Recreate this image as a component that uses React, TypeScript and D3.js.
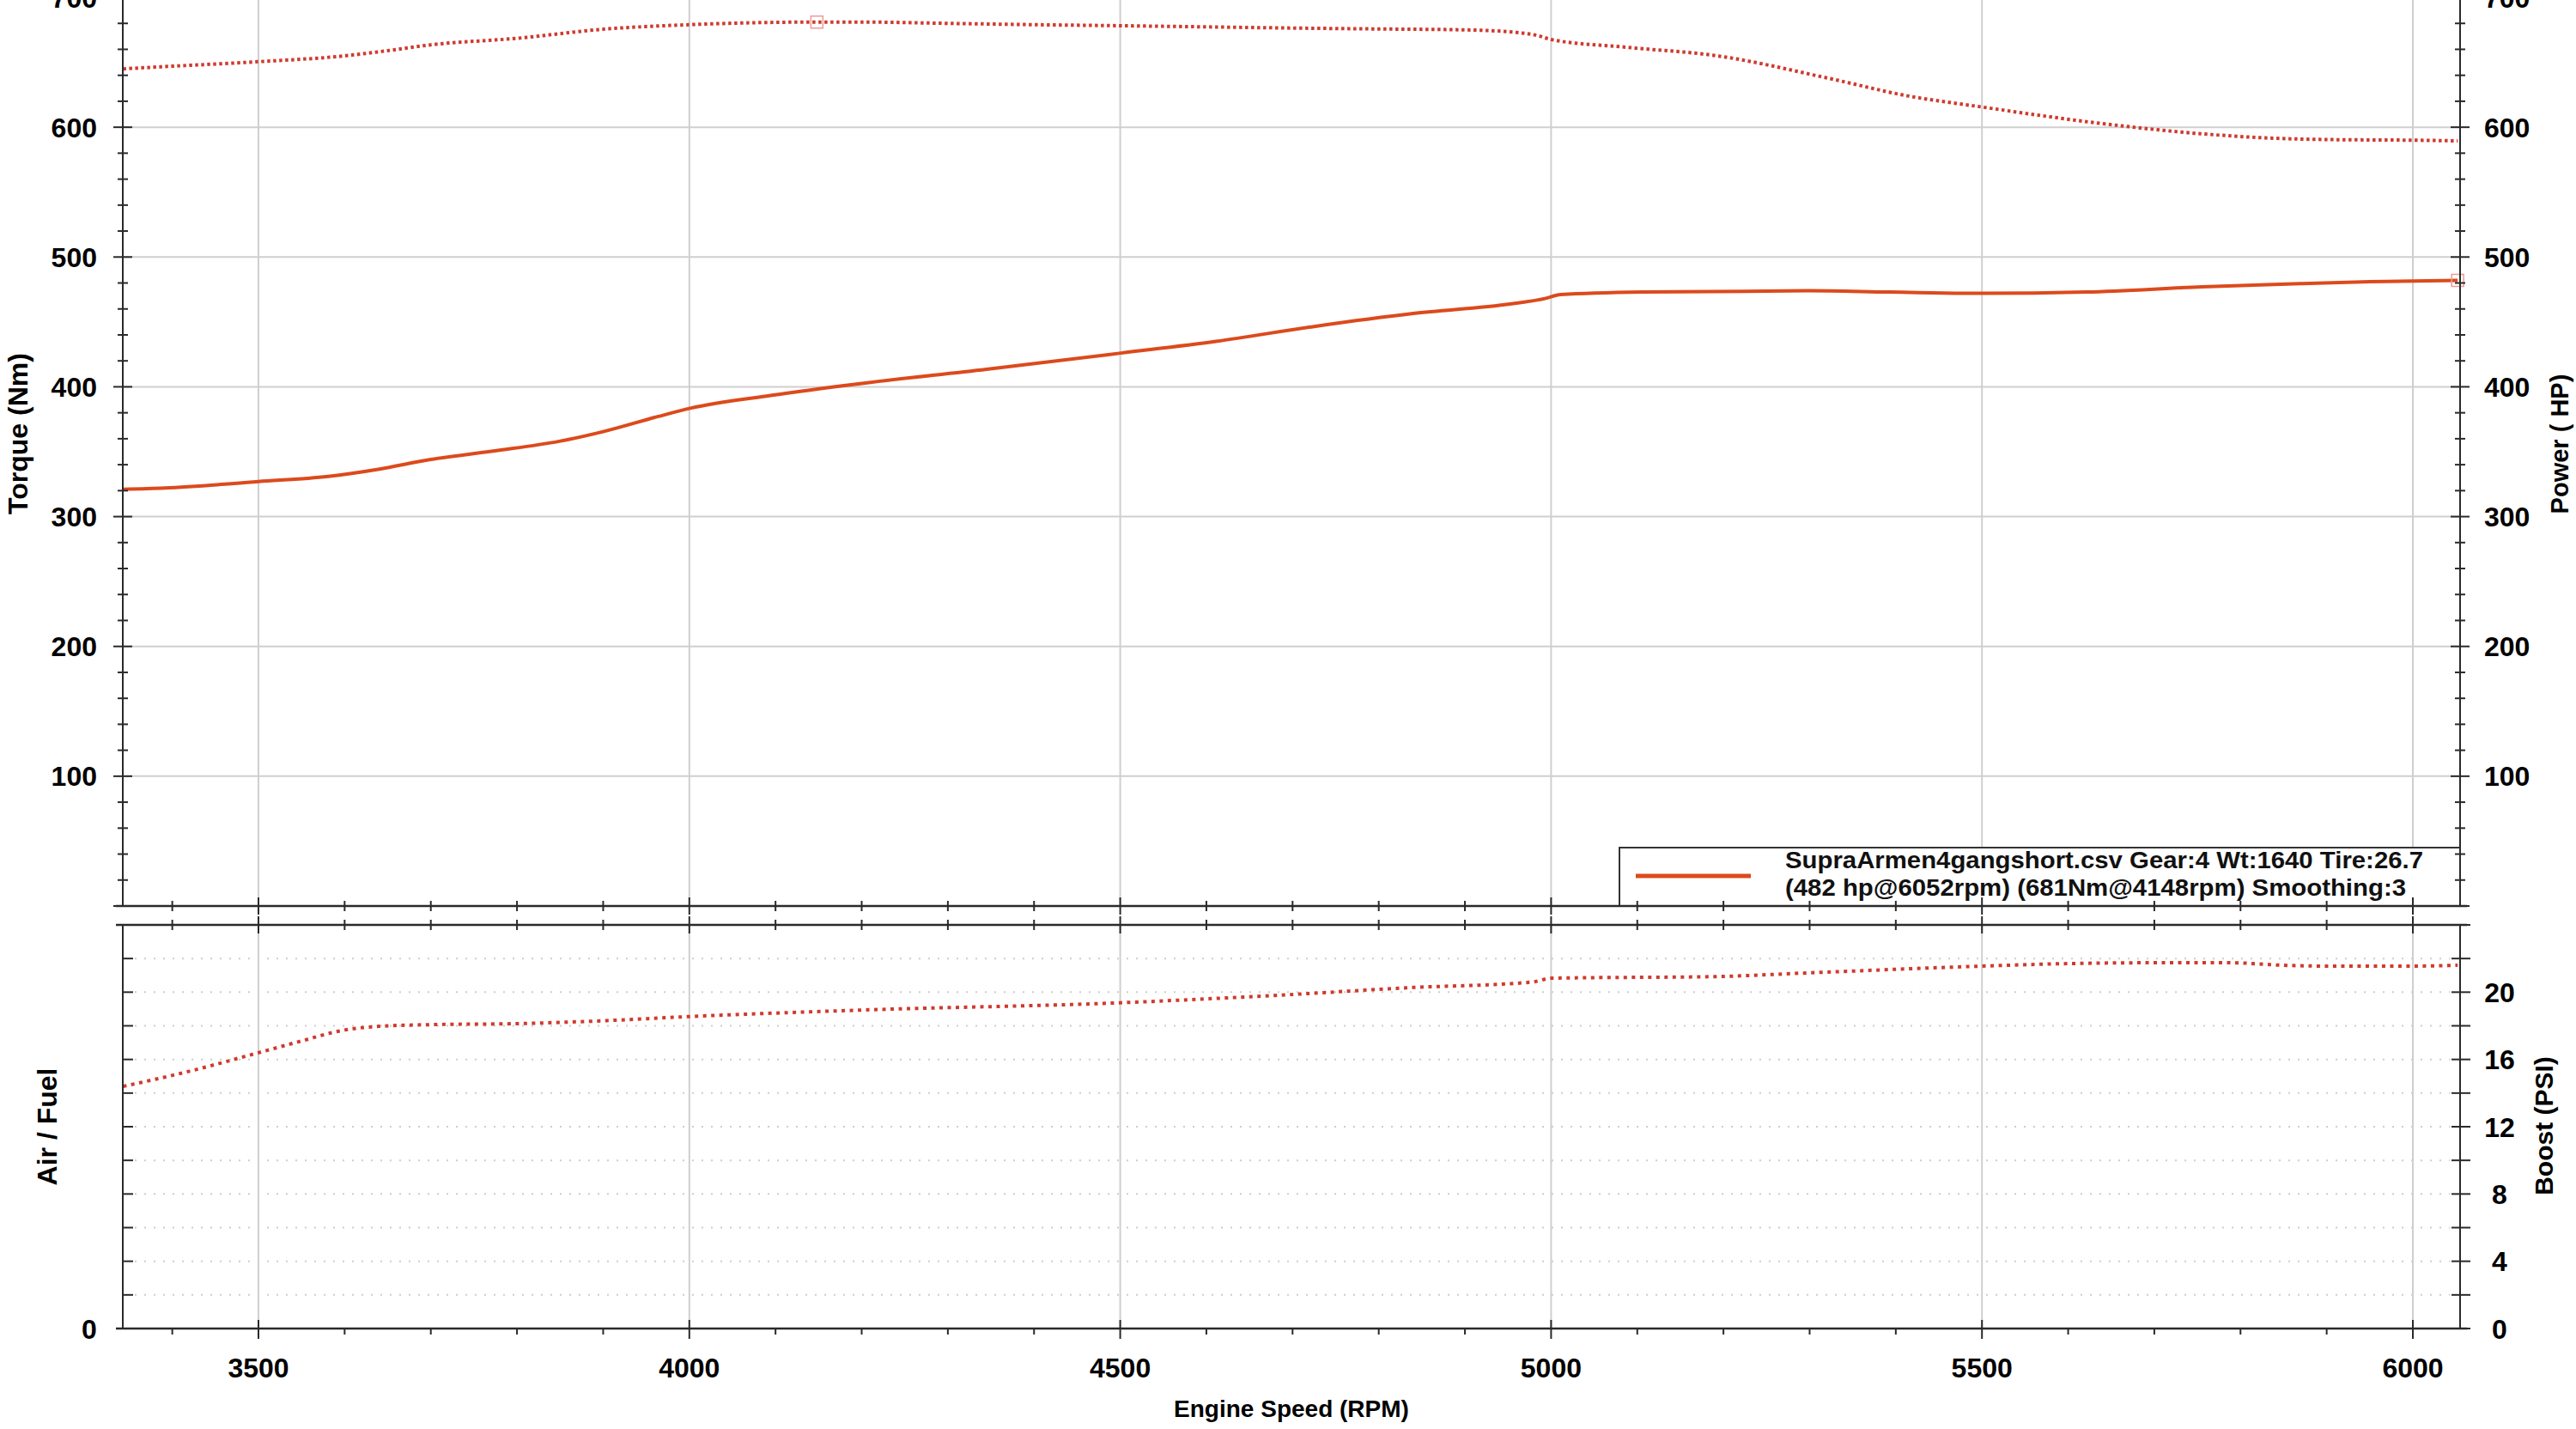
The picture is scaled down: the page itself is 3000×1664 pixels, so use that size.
import React from "react";
import * as d3 from "d3";

const W = 3000;
const H = 1664;

// ---- data ----
const torqueRpm = [3343, 3400, 3500, 3600, 3650, 3700, 3800, 3900, 4000, 4148, 4200, 4300, 4400, 4500, 4600, 4700, 4800, 4900, 4960, 4985, 5000, 5086, 5193, 5320, 5415, 5502, 5637, 5765, 5829, 5900, 6000, 6052];
const torqueNm = [645, 647, 650.5, 655, 659, 663.5, 668.5, 675.5, 679, 681, 681, 680, 679, 678.2, 677.3, 676.4, 675.7, 675, 673, 670.5, 667.6, 661.7, 655, 638, 624, 615.4, 603, 594.4, 591.8, 590.5, 590, 589.5];

const powerRpm = [3343, 3391, 3500, 3581, 3639, 3700, 3772, 3849, 3900, 3963, 4001, 4096, 4192, 4345, 4501, 4611, 4725, 4840, 4954, 4993, 5011, 5107, 5298, 5393, 5500, 5621, 5755, 5869, 5950, 6052];
const powerHp = [321, 322, 327, 331, 336.5, 344, 350.5, 358, 365.5, 377, 383.5, 393.5, 402, 413.5, 426, 435, 446.5, 456.5, 464, 468, 471, 473, 474, 473, 472, 473, 477, 479.5, 481, 482];

const boostRpm = [3343, 3420, 3500, 3543, 3600, 3640, 3700, 3800, 3900, 4000, 4196, 4500, 4705, 4832, 4978, 5000, 5193, 5300, 5500, 5600, 5700, 5788, 5850, 5900, 6000, 6052];
const boostPsi = [14.4, 15.3, 16.4, 17.0, 17.75, 17.97, 18.07, 18.13, 18.3, 18.55, 18.93, 19.37, 19.88, 20.26, 20.6, 20.83, 20.93, 21.15, 21.55, 21.7, 21.75, 21.75, 21.6, 21.55, 21.55, 21.6];

const xMajorTicks = [3500, 4000, 4500, 5000, 5500, 6000];
const torqueTicks = [100, 200, 300, 400, 500, 600, 700];
const boostTicks = [0, 4, 8, 12, 16, 20];
const legendText = [
  "SupraArmen4gangshort.csv Gear:4 Wt:1640 Tire:26.7",
  "(482 hp@6052rpm) (681Nm@4148rpm) Smoothing:3",
];
const peakTorque = { rpm: 4148, value: 681 };
const peakPower = { rpm: 6052, value: 482 };

// ---- layout ----
const X0 = 143;
const X1 = 2865;
const TOP_Y0 = 1055;
const TOP_Y1 = -3;
const BOT_Y0 = 1547;
const BOT_Y1 = 1077;

const FONT = "'Liberation Sans', Arial, sans-serif";
const AXIS = "#2a2a2a";
const GRID = "#cfcfcf";
const POWER_COLOR = "#dc4a1c";
const DOT_COLOR = "#cf3a2e";

export default function App() {
  const x = d3.scaleLinear().domain([3500, 6000]).range([301, 2810]);
  const yTop = d3.scaleLinear().domain([0, 700]).range([TOP_Y0, TOP_Y1]);
  const yBot = d3.scaleLinear().domain([0, 24]).range([BOT_Y0, BOT_Y1]);

  const torqueLine = d3
    .line<number>()
    .x((_, i) => x(torqueRpm[i]))
    .y((d) => yTop(d))
    .curve(d3.curveMonotoneX);
  const powerLine = d3
    .line<number>()
    .x((_, i) => x(powerRpm[i]))
    .y((d) => yTop(d))
    .curve(d3.curveMonotoneX);
  const boostLine = d3
    .line<number>()
    .x((_, i) => x(boostRpm[i]))
    .y((d) => yBot(d))
    .curve(d3.curveMonotoneX);

  const minorX = d3.range(3400, 6100, 100).filter((r) => x(r) > X0 + 2 && x(r) < X1 - 2);
  const minorTorque = d3.range(0, 720, 20);
  const minorBoost = d3.range(0, 25, 2);

  return (
    <svg
      width={W}
      height={H}
      viewBox={`0 0 ${W} ${H}`}
      style={{ position: "absolute", left: 0, top: 0, background: "#fff" }}
      fontFamily={FONT}
      fontWeight="bold"
    >
      <rect x={0} y={0} width={W} height={H} fill="#fff" />

      {/* ---------- top panel grid ---------- */}
      {torqueTicks.map((t) => (
        <line key={"hg" + t} x1={X0} x2={X1} y1={yTop(t)} y2={yTop(t)} stroke={GRID} strokeWidth={2} />
      ))}
      {xMajorTicks.map((t) => (
        <line key={"vgt" + t} x1={x(t)} x2={x(t)} y1={TOP_Y1} y2={TOP_Y0} stroke={GRID} strokeWidth={2} />
      ))}

      {/* ---------- bottom panel grid ---------- */}
      {minorBoost
        .filter((t) => t > 0 && t < 24)
        .map((t) => (
          <line
            key={"bg" + t}
            x1={X0 + 14}
            x2={X1 - 12}
            y1={yBot(t)}
            y2={yBot(t)}
            stroke="#cdcdcd"
            strokeWidth={2}
            strokeDasharray="2 9"
          />
        ))}
      {xMajorTicks.map((t) => (
        <line key={"vgb" + t} x1={x(t)} x2={x(t)} y1={BOT_Y1} y2={BOT_Y0} stroke={GRID} strokeWidth={2} />
      ))}

      {/* ---------- data ---------- */}
      <path
        d={torqueLine(torqueNm) || ""}
        fill="none"
        stroke={DOT_COLOR}
        strokeWidth={4}
        strokeDasharray="3.5 3.5"
      />
      <path d={powerLine(powerHp) || ""} fill="none" stroke={POWER_COLOR} strokeWidth={4} />
      <path
        d={boostLine(boostPsi) || ""}
        fill="none"
        stroke={DOT_COLOR}
        strokeWidth={4}
        strokeDasharray="4 5.5"
      />

      {/* peak markers */}
      <rect
        x={x(peakTorque.rpm) - 7}
        y={yTop(peakTorque.value) - 7}
        width={14}
        height={14}
        fill="none"
        stroke="#ec9a9a"
        strokeWidth={1.5}
      />
      <rect
        x={x(peakPower.rpm) - 7}
        y={yTop(peakPower.value) - 7}
        width={14}
        height={14}
        fill="none"
        stroke="#ec9a9a"
        strokeWidth={1.5}
      />

      {/* ---------- legend ---------- */}
      <rect x={1886} y={987} width={X1 - 1886} height={TOP_Y0 - 987} fill="#fff" stroke="#333" strokeWidth={2} />
      <line x1={1905} x2={2039} y1={1020} y2={1020} stroke={POWER_COLOR} strokeWidth={5} />
      <text x={2079} y={1011} fontSize={27} fill="#111" textLength={743} lengthAdjust="spacingAndGlyphs">
        {legendText[0]}
      </text>
      <text x={2079} y={1043} fontSize={27} fill="#111" textLength={723} lengthAdjust="spacingAndGlyphs">
        {legendText[1]}
      </text>

      {/* ---------- top panel axes ---------- */}
      <line x1={X0} x2={X0} y1={TOP_Y1} y2={TOP_Y0} stroke={AXIS} strokeWidth={2} />
      <line x1={X1} x2={X1} y1={TOP_Y1} y2={TOP_Y0} stroke={AXIS} strokeWidth={2} />
      <line x1={135} x2={X1 + 8} y1={TOP_Y0} y2={TOP_Y0} stroke={AXIS} strokeWidth={2.5} />
      {minorTorque.map((t) => {
        const major = t % 100 === 0;
        const h = major ? 11 : 6;
        return (
          <g key={"tt" + t}>
            <line x1={X0 - h} x2={X0 + h} y1={yTop(t)} y2={yTop(t)} stroke={AXIS} strokeWidth={2} />
            <line x1={X1 - h} x2={X1 + h} y1={yTop(t)} y2={yTop(t)} stroke={AXIS} strokeWidth={2} />
          </g>
        );
      })}
      {torqueTicks.map((t) => (
        <g key={"tl" + t}>
          <text x={113} y={yTop(t)} dy="0.36em" fontSize={32} textAnchor="end" fill="#000">
            {t}
          </text>
          <text x={2893} y={yTop(t)} dy="0.36em" fontSize={32} textAnchor="start" fill="#000">
            {t}
          </text>
        </g>
      ))}
      {minorX.map((r) => {
        const major = r % 500 === 0;
        const h = major ? 10 : 6;
        return <line key={"xt1" + r} x1={x(r)} x2={x(r)} y1={TOP_Y0 - h} y2={TOP_Y0 + h} stroke={AXIS} strokeWidth={2} />;
      })}

      {/* ---------- bottom panel axes ---------- */}
      <line x1={135} x2={X1 + 8} y1={BOT_Y1} y2={BOT_Y1} stroke={AXIS} strokeWidth={2.5} />
      <line x1={135} x2={X1 + 8} y1={BOT_Y0} y2={BOT_Y0} stroke={AXIS} strokeWidth={2.5} />
      <line x1={X0} x2={X0} y1={BOT_Y1} y2={BOT_Y0} stroke={AXIS} strokeWidth={2} />
      <line x1={X1} x2={X1} y1={BOT_Y1} y2={BOT_Y0} stroke={AXIS} strokeWidth={2} />
      {minorBoost.map((t) => (
        <g key={"bt" + t}>
          <line x1={X0} x2={X0 + 12} y1={yBot(t)} y2={yBot(t)} stroke={AXIS} strokeWidth={2} />
          <line x1={X1 - 10} x2={X1 + 12} y1={yBot(t)} y2={yBot(t)} stroke={AXIS} strokeWidth={2} />
        </g>
      ))}
      {boostTicks.map((t) => (
        <text key={"bl" + t} x={2911} y={yBot(t)} dy="0.36em" fontSize={32} textAnchor="middle" fill="#000">
          {t}
        </text>
      ))}
      <text x={104} y={yBot(0)} dy="0.36em" fontSize={32} textAnchor="middle" fill="#000">
        0
      </text>
      {minorX.map((r) => {
        const major = r % 500 === 0;
        const h = major ? 10 : 6;
        return (
          <g key={"xt2" + r}>
            <line x1={x(r)} x2={x(r)} y1={BOT_Y1 - h} y2={BOT_Y1 + h} stroke={AXIS} strokeWidth={2} />
            <line x1={x(r)} x2={x(r)} y1={BOT_Y0 - (major ? 10 : 0)} y2={BOT_Y0 + (major ? 12 : 7)} stroke={AXIS} strokeWidth={2} />
          </g>
        );
      })}
      {xMajorTicks.map((t) => (
        <text key={"xl" + t} x={x(t)} y={1592} dy="0.36em" fontSize={32} textAnchor="middle" fill="#000">
          {t}
        </text>
      ))}

      {/* ---------- axis titles ---------- */}
      <text transform="translate(20,505) rotate(-90)" dy="0.36em" fontSize={32} textAnchor="middle" fill="#000">
        Torque (Nm)
      </text>
      <text transform="translate(2981,517) rotate(-90)" dy="0.36em" fontSize={29} textAnchor="middle" fill="#000">
        Power ( HP)
      </text>
      <text transform="translate(54,1312) rotate(-90)" dy="0.36em" fontSize={32} textAnchor="middle" fill="#000">
        Air / Fuel
      </text>
      <text transform="translate(2962,1311) rotate(-90)" dy="0.36em" fontSize={30} textAnchor="middle" fill="#000">
        Boost (PSI)
      </text>
      <text x={1504} y={1640} dy="0.36em" fontSize={28} textAnchor="middle" fill="#000">
        Engine Speed (RPM)
      </text>
    </svg>
  );
}
